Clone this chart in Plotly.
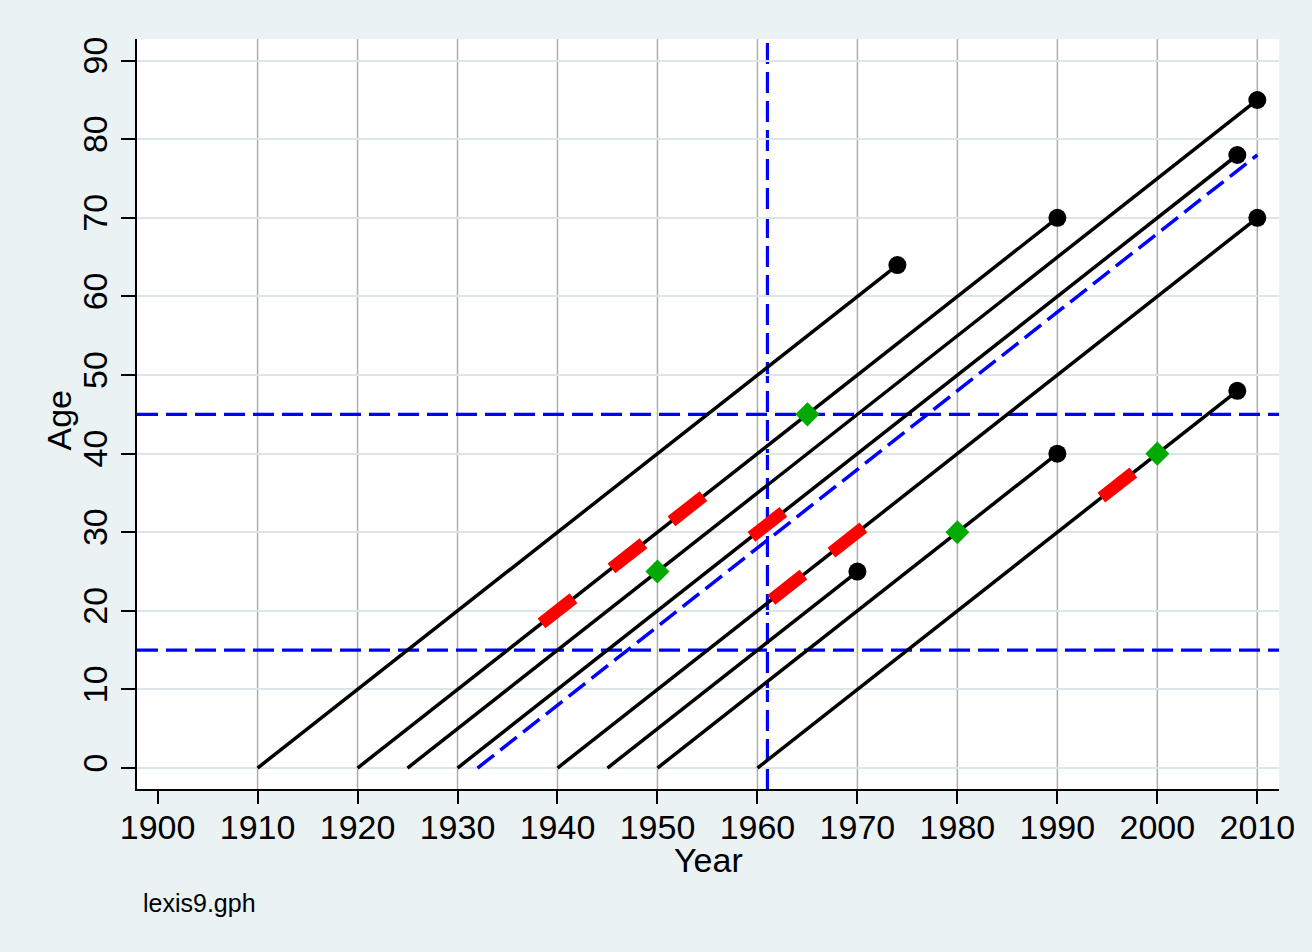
import plotly.graph_objects as go

# ---------------- data ----------------
life_start_year = [1910, 1920, 1925, 1930, 1940, 1945, 1950, 1960]
life_end_year = [1974, 1990, 2010, 2008, 2010, 1970, 1990, 2008]
life_end_age = [64, 70, 85, 78, 70, 25, 40, 48]

dash_start_year = [1932]
dash_end_year = [2010]
dash_end_age = [78]

red_year = [1940, 1947, 1953, 1961, 1963, 1969, 1996]
red_age = [20, 27, 33, 31, 23, 29, 36]

green_year = [1950, 1965, 1980, 2000]
green_age = [25, 45, 30, 40]

vline_year = [1961]
hline_age = [15, 45]

x_ticks = [1900, 1910, 1920, 1930, 1940, 1950, 1960, 1970, 1980, 1990, 2000, 2010]
y_ticks = [0, 10, 20, 30, 40, 50, 60, 70, 80, 90]
grid_years = [1910, 1920, 1930, 1940, 1950, 1960, 1970, 1980, 1990, 2000, 2010]

FONT = "Liberation Sans, Arial, sans-serif"
BLUE = "#0000FF"
DASH = "21px,8px"
HALF = 1.6  # half-length of event segments (years)

fig = go.Figure()

# life lines
lx, ly = [], []
for s, e, a in zip(life_start_year, life_end_year, life_end_age):
    lx += [s, e, None]
    ly += [0, a, None]
fig.add_trace(go.Scatter(x=lx, y=ly, mode="lines",
                         line=dict(color="black", width=3.5), hoverinfo="skip"))

# dashed diagonal
dx, dy = [], []
for s, e, a in zip(dash_start_year, dash_end_year, dash_end_age):
    dx += [s, e, None]
    dy += [0, a, None]
fig.add_trace(go.Scatter(x=dx, y=dy, mode="lines",
                         line=dict(color=BLUE, width=3.5, dash=DASH), hoverinfo="skip"))

# end dots
fig.add_trace(go.Scatter(x=life_end_year, y=life_end_age, mode="markers",
                         marker=dict(color="black", size=18, symbol="circle",
                                     line=dict(width=0))))

# red event segments
rx, ry = [], []
for yv, av in zip(red_year, red_age):
    rx += [yv - HALF, yv + HALF, None]
    ry += [av - HALF, av + HALF, None]
fig.add_trace(go.Scatter(x=rx, y=ry, mode="lines",
                         line=dict(color="#FF0000", width=12.5), hoverinfo="skip"))

# green diamonds
fig.add_trace(go.Scatter(x=green_year, y=green_age, mode="markers",
                         marker=dict(color="#00AA00", size=18.5, symbol="diamond",
                                     line=dict(width=0))))

shapes = []
for g in grid_years:
    shapes.append(dict(type="line", xref="x", yref="paper", x0=g, x1=g, y0=0, y1=1,
                       line=dict(color="#AEAEAE", width=1.5), layer="between"))
for v in vline_year:
    shapes.append(dict(type="line", xref="x", yref="paper", x0=v, x1=v, y0=0, y1=1,
                       line=dict(color=BLUE, width=3.2, dash=DASH), layer="between"))
for h in hline_age:
    shapes.append(dict(type="line", xref="paper", yref="y", x0=0, x1=1, y0=h, y1=h,
                       line=dict(color=BLUE, width=3.2, dash=DASH), layer="between"))

fig.update_layout(
    width=1312, height=952,
    margin=dict(l=137, r=33, t=39, b=163),
    paper_bgcolor="#EAF2F3",
    plot_bgcolor="white",
    showlegend=False,
    font=dict(family=FONT, color="black"),
    shapes=shapes,
    xaxis=dict(range=[1897.94, 2012.17], tickvals=x_ticks,
               ticktext=[str(t) for t in x_ticks],
               showgrid=False, zeroline=False,
               showline=True, linecolor="black", linewidth=2,
               ticks="outside", ticklen=13, tickwidth=2, tickcolor="black",
               ticklabelstandoff=-6,
               tickfont=dict(size=34, family=FONT)),
    yaxis=dict(range=[-2.67, 92.76], tickvals=y_ticks,
               ticktext=[str(t) for t in y_ticks], tickangle=-90,
               showgrid=True, gridcolor="#DCE6E9", gridwidth=1.5,
               zeroline=False,
               showline=True, linecolor="black", linewidth=2,
               ticks="outside", ticklen=14, tickwidth=2, tickcolor="black",
               tickfont=dict(size=34, family=FONT)),
    annotations=[
        dict(text="Year", xref="paper", yref="paper", x=0.5, y=-0.0947,
             xanchor="center", yanchor="middle", showarrow=False,
             font=dict(size=34, family=FONT)),
        dict(text="Age", xref="paper", yref="paper", x=-0.0687, y=0.492,
             xanchor="center", yanchor="middle", textangle=-90, showarrow=False,
             font=dict(size=34, family=FONT)),
        dict(text="lexis9.gph", xref="paper", yref="paper",
             x=0.0035, y=-0.152, xanchor="left", yanchor="middle",
             showarrow=False, font=dict(size=25, family=FONT)),
    ],
)

fig.write_html("out.html", config={"displayModeBar": False},
               post_script="document.body.style.margin='0';")
